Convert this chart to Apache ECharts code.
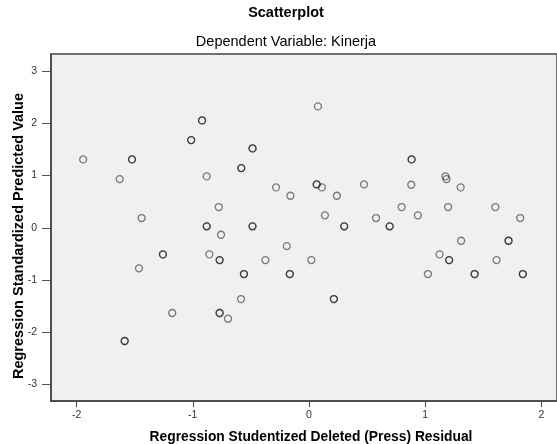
<!DOCTYPE html>
<html>
<head>
<meta charset="utf-8">
<script src="https://cdn.jsdelivr.net/npm/echarts@6/dist/echarts.min.js"></script>
<style>html,body{margin:0;padding:0;background:#fff;}#c{width:557px;height:444px;}</style>
</head>
<body>
<div id="c"></div>
<script>
// Studentized deleted residual (x) vs standardized predicted value (y); repeated pairs are overlapping cases
const residuals = [
  -0.920,-0.920,-1.014,-1.014,-1.943,-1.523,-1.523,-1.629,-0.880,-0.777,-1.440,-0.880,-0.880,
  0.077,-0.486,-0.486,-0.583,-0.583,-0.283,-0.160,0.066,0.066,0.111,0.240,0.474,0.137,0.577,
  -0.486,-0.486,0.303,0.303,0.883,0.883,1.174,1.183,0.880,1.305,0.797,1.197,1.603,0.937,1.817,
  0.694,0.694,-0.757,-1.257,-1.257,-0.857,-0.769,-0.769,-1.463,-1.177,-0.769,-0.769,-0.697,
  -1.586,-1.586,-0.191,-0.375,0.020,-0.560,-0.560,-0.165,-0.165,-0.585,0.214,0.214,1.309,
  1.717,1.717,1.123,1.206,1.206,1.614,1.023,1.425,1.425,1.840,1.840
];
const predicted = [
  2.057,2.057,1.680,1.680,1.310,1.310,1.310,0.933,0.985,0.397,0.186,0.027,0.027,
  2.326,1.521,1.521,1.144,1.144,0.774,0.613,0.831,0.831,0.774,0.613,0.831,0.238,0.186,
  0.027,0.027,0.027,0.027,1.310,1.310,0.985,0.933,0.824,0.774,0.397,0.397,0.397,0.238,0.186,
  0.027,0.027,-0.134,-0.510,-0.510,-0.510,-0.619,-0.619,-0.778,-1.634,-1.634,-1.634,-1.743,
  -2.170,-2.170,-0.351,-0.619,-0.619,-0.887,-0.887,-0.887,-0.887,-1.366,-1.366,-1.366,-0.249,
  -0.249,-0.249,-0.510,-0.619,-0.619,-0.619,-0.887,-0.887,-0.887,-0.887,-0.887
];
const xTicks = [-2, -1, 0, 1, 2];
const yTicks = [-3, -2, -1, 0, 1, 2, 3];
const xTitle = 'Regression Studentized Deleted (Press) Residual';
const yTitle = 'Regression Standardized Predicted Value';

const points = residuals.map((x, i) => [x, predicted[i]]);
const font = "Arial, 'Liberation Sans', sans-serif";
const chart = echarts.init(document.getElementById('c'), null, {renderer: 'canvas'});
chart.setOption({
  animation: false,
  backgroundColor: '#ffffff',
  title: [
    {text: 'Scatterplot', left: 286, top: 5, padding: 0, textAlign: 'center',
     textStyle: {fontFamily: font, fontSize: 14.5, fontWeight: 'bold', color: '#000'}},
    {text: 'Dependent Variable: Kinerja', left: 286, top: 34, padding: 0, textAlign: 'center',
     textStyle: {fontFamily: font, fontSize: 14.5, fontWeight: 'normal', color: '#000'}}
  ],
  graphic: [
    {type: 'text', x: 311, y: 437,
     style: {text: xTitle, font: 'bold 13.8px ' + font, fill: '#000', align: 'center', verticalAlign: 'middle'}},
    {type: 'text', x: 19, y: 236, rotation: Math.PI / 2,
     style: {text: yTitle, font: 'bold 14.5px ' + font, fill: '#000', align: 'center', verticalAlign: 'middle'}}
  ],
  grid: {left: 51, top: 54, right: -2, bottom: 43, show: true,
         backgroundColor: '#f0f0f0', borderColor: '#444', borderWidth: 1.5},
  xAxis: {
    type: 'value', min: -2.22, max: 2.134,
    axisLine: {show: true, onZero: false, lineStyle: {color: '#444', width: 1.5}},
    axisTick: {show: true, inside: false, length: 6, customValues: xTicks, lineStyle: {color: '#444'}},
    axisLabel: {show: true, customValues: xTicks, margin: 9, fontFamily: font, fontSize: 10.5, color: '#333'},
    splitLine: {show: false}
  },
  yAxis: {
    type: 'value', min: -3.32, max: 3.33,
    axisLine: {show: true, onZero: false, lineStyle: {color: '#444', width: 1.5}},
    axisTick: {show: true, inside: false, length: 9, customValues: yTicks, lineStyle: {color: '#555'}},
    axisLabel: {show: true, customValues: yTicks, margin: 14, fontFamily: font, fontSize: 10.5, color: '#333'},
    splitLine: {show: false}
  },
  series: [{
    type: 'scatter',
    data: points,
    symbol: 'circle',
    symbolSize: 7,
    itemStyle: {color: 'rgba(0,0,0,0)', borderColor: 'rgba(0,0,0,0.62)', borderWidth: 1.3}
  }]
});
</script>
</body>
</html>
